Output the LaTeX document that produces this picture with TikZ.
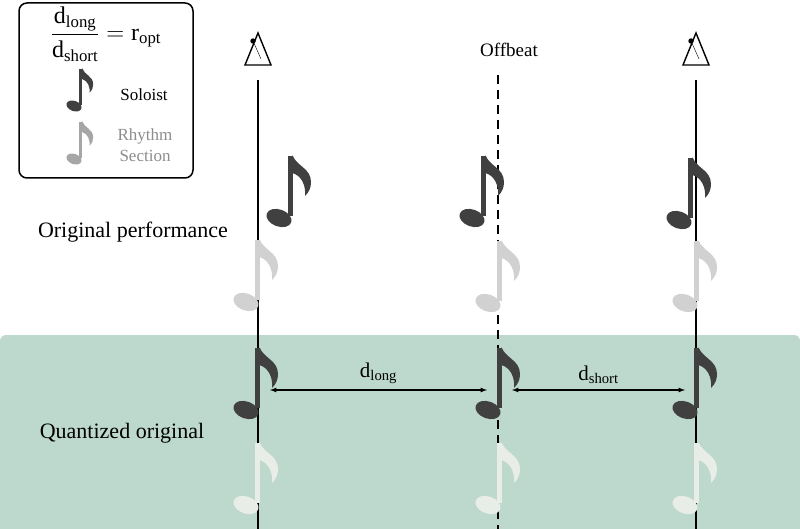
\documentclass[tikz,border=0pt]{standalone}
\usepackage{fontspec}
\setmainfont{Liberation Serif}
\begin{document}
\begin{tikzpicture}[x=1pt,y=-1pt,
  note/.pic={
    \fill[rotate=-20] (0,0) ellipse (13 and 8.5);
    \fill (9,-2) rectangle (13.5,-62);
    \fill (13.5,-63) .. controls (17,-52) and (32,-50) .. (32,-36)
      .. controls (32,-30) and (30,-26) .. (26,-22)
      .. controls (27,-32) and (23,-42) .. (13.5,-45) -- cycle;
  },
  beat/.style={line width=1.3pt},
  lbl/.style={font=\fontsize{21}{24}\selectfont},
  big/.style={font=\fontsize{22}{26}\selectfont}]
\useasboundingbox (0,0) rectangle (800,529);
\fill[fill={rgb,255:red,189;green,216;blue,204}, rounded corners=6pt] (0,335) rectangle (800,540);
% metronomes
\foreach \n/\x in {m1/258,m3/696}{
  \draw[line width=1.4pt] (\x-13,65) -- (\x,33) -- (\x+13,65) -- cycle;
  \draw (\x-5,41) -- (\x+3,59);
  \fill (\x-5,41) circle (2.7);
  \coordinate (\n) at (\x,80);
}
\node[font=\fontsize{19}{22}\selectfont] (off) at (509,50) {Offbeat};
\coordinate (m2) at (498,75);
\coordinate (b1) at (258,529);
\coordinate (b2) at (498,529);
\coordinate (b3) at (696,529);
\draw[beat] (m1) -- (b1);
\draw[beat] (m3) -- (b3);
\draw[beat,dash pattern=on 9pt off 6pt] (m2) -- (b2);
% notes
\foreach \x/\y in {279/218,472/218,679/220}{\pic[black!75] at (\x,\y) {note};}
\foreach \x/\y in {246/302,488/303,685/303}{\pic[black!18] at (\x,\y) {note};}
\foreach \x/\y in {246/410,488/410,685/410}{\pic[black!75] at (\x,\y) {note};}
\foreach \x/\y in {246/505,488/505,685/505}{\pic[color={rgb,255:red,232;green,237;blue,232}] at (\x,\y) {note};}
% arrows
\coordinate (a1) at (270,390); \coordinate (a2) at (487,390);
\coordinate (a3) at (512,390); \coordinate (a4) at (685,390);
\draw[line width=1.2pt,<->,>=latex] (a1) -- node[lbl,above=2pt] {d\textsubscript{long}} (a2);
\draw[line width=1.2pt,<->,>=latex] (a3) -- node[lbl,above=2pt] {d\textsubscript{short}} (a4);
\node[big] (op) at (133,232) {Original performance};
\node[big] (qo) at (122,433) {Quantized original};
% legend
\draw[line width=1.5pt,rounded corners=8pt] (19,3) rectangle (193,178);
\node[font=\fontsize{24}{28}\selectfont,inner sep=0pt] (eq) at (106,34) {$\displaystyle\frac{\mathrm{d}_{\mathrm{long}}}{\mathrm{d}_{\mathrm{short}}}=\mathrm{r}_{\mathrm{opt}}$};
\pic[black!75,scale=0.6] at (74,106) {note};
\pic[black!35,scale=0.6] at (74,159) {note};
\node[font=\fontsize{17}{19}\selectfont] (so) at (144,95) {Soloist};
\node[font=\fontsize{17}{21}\selectfont,text=black!45,align=center] (rs) at (145,145) {Rhythm\\Section};
\end{tikzpicture}
\end{document}
